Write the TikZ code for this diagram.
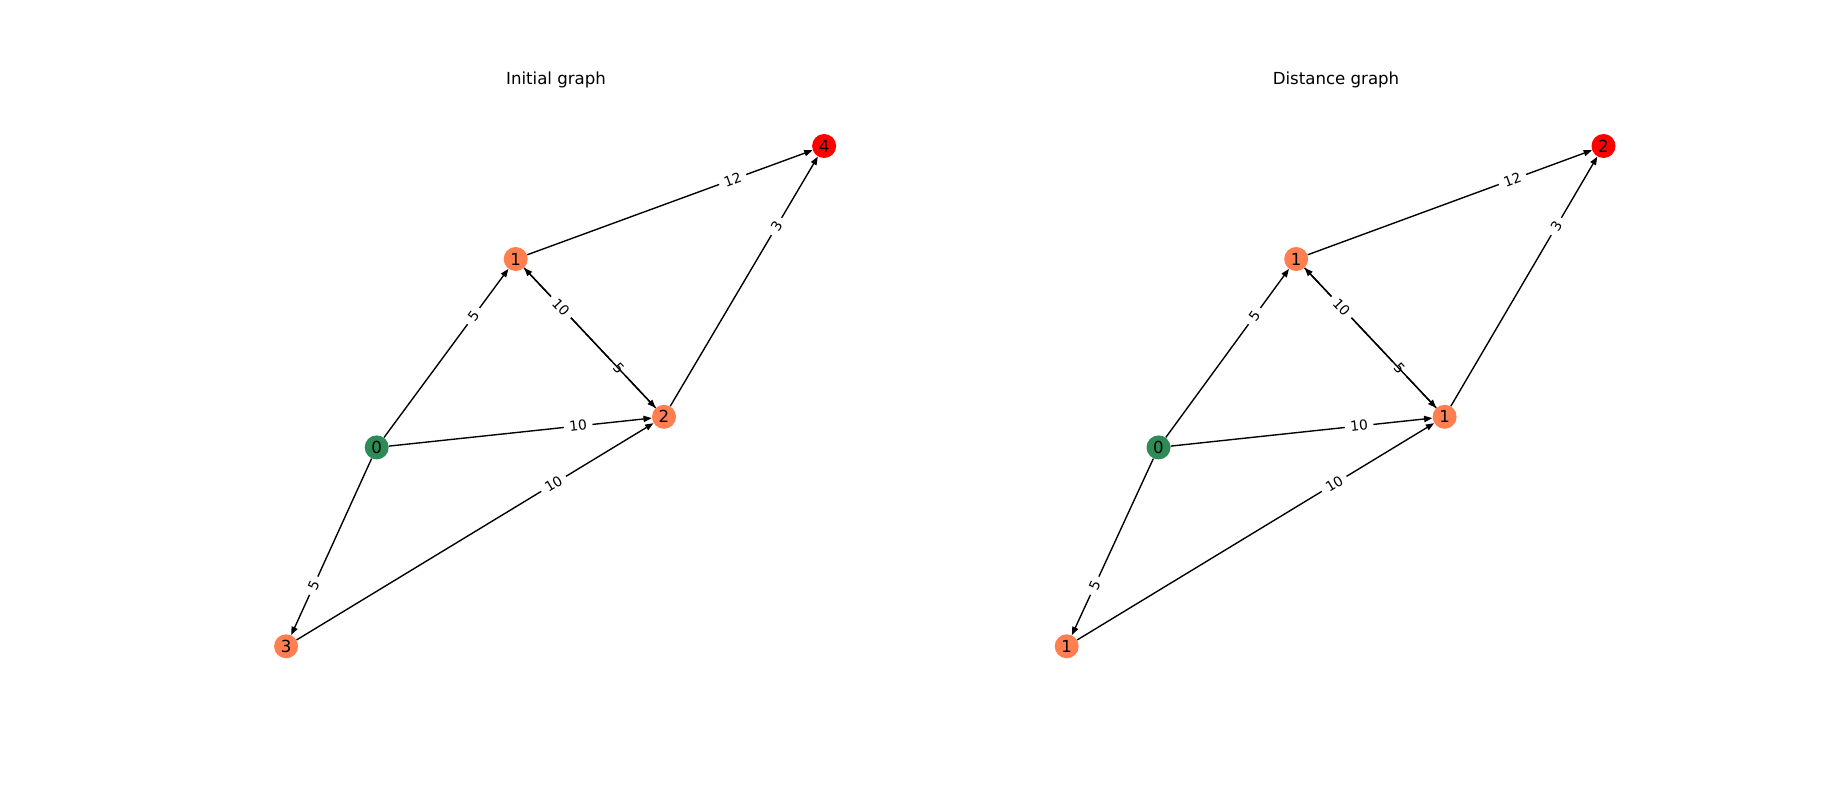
\documentclass[tikz,border=0pt]{standalone}
\usepackage{fontspec}
\setmainfont{DejaVu Sans}
\usepackage{tikz}
\usetikzlibrary{arrows.meta}
\definecolor{mygreen}{RGB}{46,139,87}
\definecolor{mycoral}{RGB}{255,127,80}
\definecolor{myred}{RGB}{255,0,0}
\tikzset{
  vert/.style={circle, inner sep=0pt, minimum size=0.61cm,
    font=\fontsize{12}{14}\selectfont},
  srcvert/.style={vert, fill=mygreen},
  midvert/.style={vert, fill=mycoral},
  dstvert/.style={vert, fill=myred},
  link/.style={-{Triangle[length=6pt,width=4.5pt]}, line width=1pt, black},
  wlabel/.style={pos=0.72, sloped, fill=white, inner xsep=4pt, inner ysep=2pt,
    font=\fontsize{10}{12}\selectfont},
  ttl/.style={font=\fontsize{12}{14}\selectfont}
}

\begin{document}
\begin{tikzpicture}[x=0.0254cm, y=-0.0254cm]
  \useasboundingbox (0,0) rectangle (1846,786);
  % Left: initial graph
  \node[ttl] (t1) at (556,80) {Initial graph};
  \node[srcvert] (a0) at (376.7,447.4) {0};
  \node[midvert] (a1) at (515.7,259.0) {1};
  \node[midvert] (a2) at (664.0,416.8) {2};
  \node[midvert] (a3) at (286.1,646.3) {3};
  \node[dstvert] (a4) at (824.1,146.0) {4};
  \draw[link] (a0) -- node[wlabel] {5} (a1);
  \draw[link] (a0) -- node[wlabel] {10} (a2);
  \draw[link] (a0) -- node[wlabel] {5} (a3);
  \draw[link] (a1) -- node[wlabel] {5} (a2);
  \draw[link] (a2) -- node[wlabel] {10} (a1);
  \draw[link] (a1) -- node[wlabel] {12} (a4);
  \draw[link] (a2) -- node[wlabel] {3} (a4);
  \draw[link] (a3) -- node[wlabel] {10} (a2);
  % Right: distance graph
  \node[ttl] (t2) at (1336,80) {Distance graph};
  \node[srcvert] (b0) at (1158.5,447.4) {0};
  \node[midvert] (b1) at (1296.2,259.0) {1};
  \node[midvert] (b2) at (1444.6,416.8) {1};
  \node[midvert] (b3) at (1066.7,646.3) {1};
  \node[dstvert] (b4) at (1603.5,146.0) {2};
  \draw[link] (b0) -- node[wlabel] {5} (b1);
  \draw[link] (b0) -- node[wlabel] {10} (b2);
  \draw[link] (b0) -- node[wlabel] {5} (b3);
  \draw[link] (b1) -- node[wlabel] {5} (b2);
  \draw[link] (b2) -- node[wlabel] {10} (b1);
  \draw[link] (b1) -- node[wlabel] {12} (b4);
  \draw[link] (b2) -- node[wlabel] {3} (b4);
  \draw[link] (b3) -- node[wlabel] {10} (b2);
\end{tikzpicture}
\end{document}
